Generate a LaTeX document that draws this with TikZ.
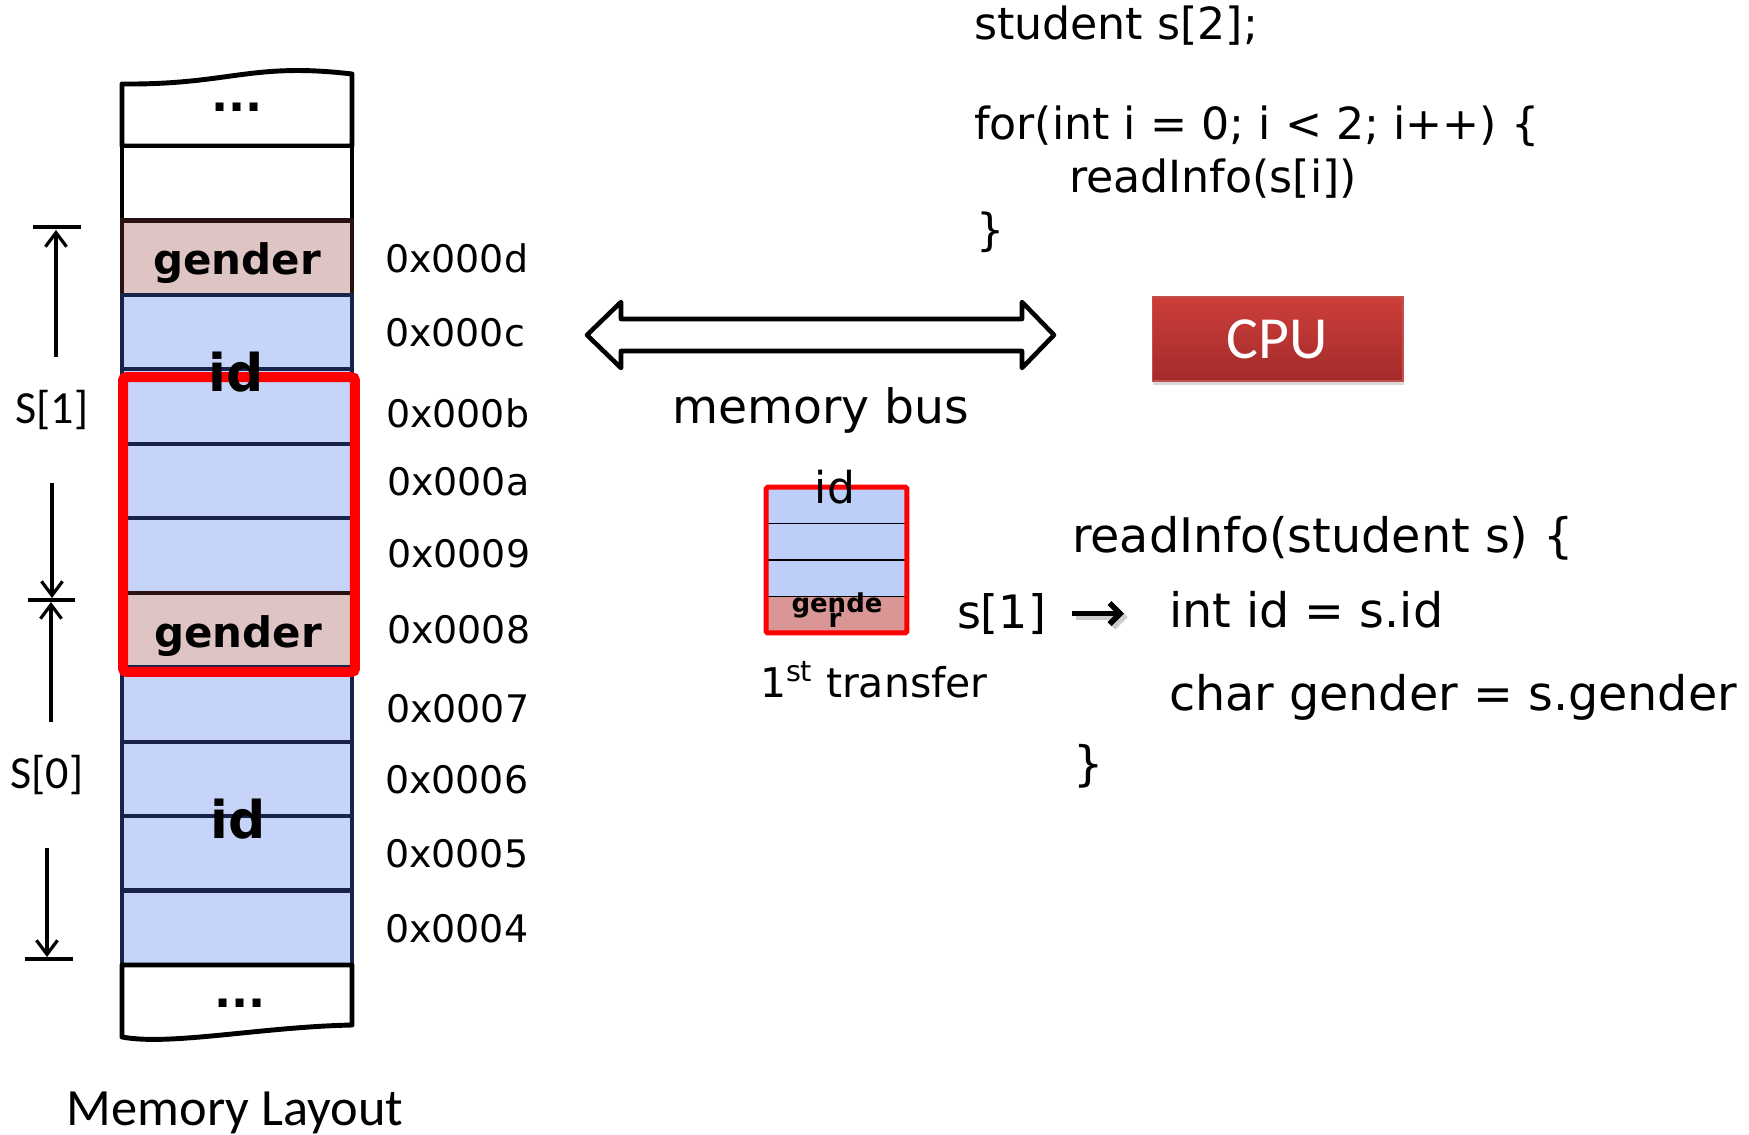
\documentclass[tikz,border=0pt]{standalone}
\usepackage{fontspec}
\setmainfont{DejaVu Sans}
\newfontfamily\calib{Carlito}
\usetikzlibrary{arrows.meta,shadows}
\definecolor{cellblue}{RGB}{198,212,250}
\definecolor{cellpink}{RGB}{223,196,196}
\definecolor{navy}{RGB}{23,35,74}
\definecolor{brownb}{RGB}{40,18,18}
\definecolor{tblue}{RGB}{189,207,248}
\definecolor{tpink}{RGB}{217,150,148}
\definecolor{cputop}{RGB}{205,62,58}
\definecolor{cpubot}{RGB}{163,43,42}
\definecolor{cpuedge}{RGB}{196,80,77}
\begin{document}
\begin{tikzpicture}[x=0.02cm,y=-0.02cm,
  every node/.style={inner sep=0pt,outer sep=0pt},
  cell/.style={draw=navy,line width=2.3pt,fill=cellblue,minimum width=4.6cm,minimum height=1.489cm},
  gcell/.style={cell,draw=brownb,fill=cellpink},
  wcell/.style={cell,draw=black,line width=2.8pt,fill=white},
  tcell/.style={draw=black,line width=1.1pt,fill=tblue,minimum width=2.82cm,minimum height=0.73cm},
  tgcell/.style={tcell,fill=tpink},
  addr/.style={anchor=base west,font=\fontsize{21.6pt}{26pt}\selectfont},
  codeA/.style={anchor=base west,font=\fontsize{25.2pt}{30pt}\selectfont},
  codeB/.style={anchor=base west,font=\fontsize{27.1pt}{32pt}\selectfont},
  fld/.style={anchor=base,font=\bfseries\fontsize{23.9pt}{28pt}\selectfont},
  idlab/.style={anchor=base,font=\bfseries\fontsize{29.6pt}{34pt}\selectfont},
  dots/.style={anchor=base,font=\bfseries\fontsize{25.6pt}{30pt}\selectfont},
  slab/.style={font=\calib\fontsize{26.2pt}{30pt}\selectfont},
  dimarrow/.style={line width=1.8pt,-{Straight Barb[length=8pt,width=12pt]}},
  dimbar/.style={line width=2.6pt},
  cpubox/.style={minimum width=5.02cm,minimum height=1.68cm,top color=cputop,bottom color=cpubot,
    draw=cpuedge,line width=0.6pt,
    drop shadow={shadow xshift=0.5pt,shadow yshift=-2.5pt,opacity=0.3,fill=gray},
    text=white,font=\calib\fontsize{34pt}{40pt}\selectfont}
]
\useasboundingbox (0,0) rectangle (1749,1135);

% top wavy cell
\draw[line width=2.8pt,fill=white,line join=round] (122,146) -- (122,84) .. controls (230,85) and (250,62) .. (352,74) -- (352,146) -- cycle;
\node[dots] (dtop) at (237,112) {...};

% memory rows
\node[wcell] (w0) at (237,183.2) {};
\node[gcell] (g1) at (237,257.7) {};
\node[cell] (c2) at (237,332.1) {};
\node[cell] (c3) at (237,406.6) {};
\node[cell] (c4) at (237,481.0) {};
\node[cell] (c5) at (237,555.5) {};
\node[gcell] (g6) at (237,629.9) {};
\node[cell] (c7) at (237,704.4) {};
\node[cell] (c8) at (237,778.8) {};
\node[cell] (c9) at (237,853.3) {};
\node[cell] (c10) at (237,927.7) {};

% bottom wavy cell
\draw[line width=2.8pt,fill=white,line join=round] (122,965) -- (122,1037) .. controls (170,1046) and (260,1027) .. (352,1025) -- (352,965) -- cycle;
\node[dots] (dbot) at (240,1007) {...};

% selection box
\node[draw=red,line width=5.7pt,rounded corners=2pt,minimum width=4.64cm,minimum height=5.9cm] (sel) at (239,524.5) {};

% field labels
\node[fld] (gtop) at (237,275) {gender};
\node[fld] (gbot) at (238,647) {gender};
\node[idlab] (idtop) at (236,392) {id};
\node[idlab] (idbot) at (238,838) {id};

% addresses
\node[addr] (a13) at (385,273) {0x000d};
\node[addr] (a12) at (385,347) {0x000c};
\node[addr] (a11) at (386,427) {0x000b};
\node[addr] (a10) at (387,495) {0x000a};
\node[addr] (a9) at (387,567) {0x0009};
\node[addr] (a8) at (387,643) {0x0008};
\node[addr] (a7) at (386,722) {0x0007};
\node[addr] (a6) at (385,793) {0x0006};
\node[addr] (a5) at (385,867) {0x0005};
\node[addr] (a4) at (385,942) {0x0004};

% dimension marks
\coordinate (tb1) at (33,227); \coordinate (tb2) at (81,227);
\coordinate (mb1) at (28,600); \coordinate (mb2) at (75,600);
\coordinate (bb1) at (25,959); \coordinate (bb2) at (73,959);
\draw[dimbar] (tb1) -- (tb2);
\draw[dimbar] (mb1) -- (mb2);
\draw[dimbar] (bb1) -- (bb2);
\coordinate (t1) at (56,357); \coordinate (t2) at (56,230);
\coordinate (m1) at (52,483); \coordinate (m2) at (52,598);
\coordinate (m3) at (51,722); \coordinate (m4) at (51,602);
\coordinate (b1) at (47,848); \coordinate (b2) at (47,957);
\draw[dimarrow] (t1) -- (t2);
\draw[dimarrow] (m1) -- (m2);
\draw[dimarrow] (m3) -- (m4);
\draw[dimarrow] (b1) -- (b2);
\node[slab] (s1lab) at (52,410) {S[1]};
\node[slab] (s0lab) at (47,775) {S[0]};
\node[anchor=base,font=\calib\fontsize{29.8pt}{34pt}\selectfont] (mlay) at (235,1125) {Memory Layout};

% memory bus
\draw[line width=2.6pt,line join=round,fill=white] (587,335) -- (621,302) -- (621,319) -- (1022,319) -- (1022,302) -- (1054,335) -- (1022,368) -- (1022,351) -- (621,351) -- (621,368) -- cycle;
\node[anchor=base,font=\fontsize{26.9pt}{32pt}\selectfont] (bus) at (821,423) {memory bus};

% CPU
\node[cpubox] (cpu) at (1277.5,339) {CPU};

% transfer box
\node[tcell] (x1) at (836.5,505.25) {};
\node[tcell] (x2) at (836.5,541.75) {};
\node[tcell] (x3) at (836.5,578.25) {};
\node[tgcell] (x4) at (836.5,614.75) {};
\node[draw=red,line width=2.85pt,rounded corners=1pt,minimum width=2.82cm,minimum height=2.92cm] (xsel) at (836.5,560) {};
\node[anchor=base,font=\fontsize{25pt}{30pt}\selectfont] (xid) at (835,503) {id};
\node[anchor=base,font=\bfseries\fontsize{14.8pt}{16pt}\selectfont] (xg1) at (837,612) {gende};
\node[anchor=base,font=\bfseries\fontsize{14.8pt}{16pt}\selectfont] (xg2) at (835,627) {r};
\node[anchor=base west,font=\fontsize{23.3pt}{28pt}\selectfont] (first) at (760,697) {1\textsuperscript{st} transfer};

% code top
\node[codeA] (l1) at (974,40) {student s[2];};
\node[codeA] (l2) at (974,140) {for(int i = 0; i < 2; i++) \{};
\node[codeA] (l3) at (1069,193) {readInfo(s[i])};
\node[codeA] (l4) at (976,246) {\}};

% code right
\node[codeB] (r1) at (1072,552) {readInfo(student s) \{};
\node[codeB] (r2) at (1169,627) {int id = s.id};
\node[codeB] (r3) at (1169,710) {char gender = s.gender};
\node[codeB] (r4) at (1073,780) {\}};
\node[anchor=base west,font=\fontsize{26.2pt}{30pt}\selectfont] (s1) at (957,628) {s[1]};
\draw[gray!40,line width=3.2pt,-{Straight Barb[length=6pt,width=12pt]},shorten <=0.56cm,shorten >=0.86cm,transform canvas={xshift=1pt,yshift=-2pt}] (s1.east) -- (s1.east -| r2.west);
\draw[line width=3.2pt,-{Straight Barb[length=6pt,width=12pt]},shorten <=0.52cm,shorten >=0.9cm] (s1.east) -- (s1.east -| r2.west);
\end{tikzpicture}
\end{document}
